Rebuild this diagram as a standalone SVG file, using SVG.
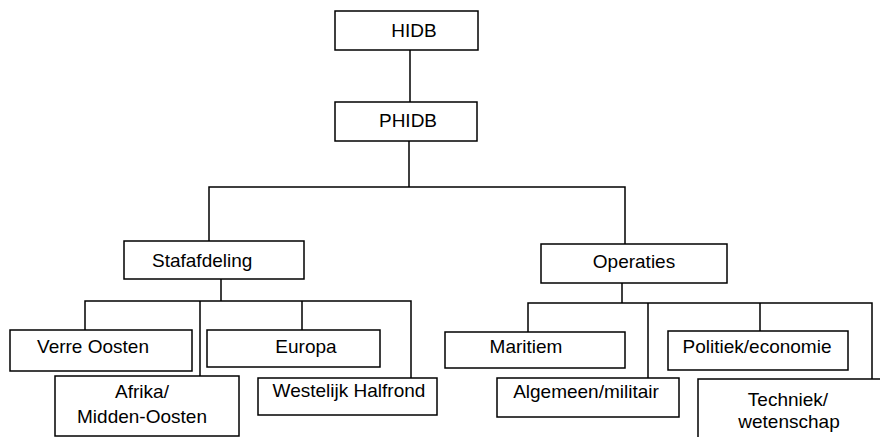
<svg xmlns="http://www.w3.org/2000/svg" width="880" height="437" viewBox="0 0 880 437">
<style>
.box{fill:#fff;stroke:#000;stroke-width:1.5}
.ln{fill:none;stroke:#000;stroke-width:1.5}
text{font-family:"Liberation Sans",Arial,sans-serif;font-size:19px;fill:#000}
</style>
<rect width="880" height="437" fill="#fff"/>
<g id="connectors" class="ln">
<path d="M410 50V102"/>
<path d="M409 141V187M209 241V187H625V244"/>
<path d="M221 279V301M85 330V301H411V378M200 301V376M302 301V330"/>
<path d="M622 283V303M528 332V303H872V379M648 303V378M760 303V331"/>
</g>
<g id="n-hidb"><rect class="box" x="335" y="11" width="143" height="39"/><text x="414" y="37" text-anchor="middle">HIDB</text></g>
<g id="n-phidb"><rect class="box" x="335" y="102" width="142" height="39"/><text x="408" y="127" text-anchor="middle">PHIDB</text></g>
<g id="n-staf"><rect class="box" x="124" y="241" width="180" height="38"/><text x="152" y="267">Stafafdeling</text></g>
<g id="n-operaties"><rect class="box" x="541" y="244" width="186" height="39"/><text x="634" y="268" text-anchor="middle">Operaties</text></g>
<g id="n-verre"><rect class="box" x="10" y="330" width="182" height="41"/><text x="93" y="353" text-anchor="middle">Verre Oosten</text></g>
<g id="n-afrika"><rect class="box" x="55" y="376" width="184" height="60"/><text x="142" y="398" text-anchor="middle">Afrika/</text><text x="142" y="423" text-anchor="middle">Midden-Oosten</text></g>
<g id="n-europa"><rect class="box" x="207" y="330" width="173" height="37"/><text x="306" y="353" text-anchor="middle">Europa</text></g>
<g id="n-westelijk"><rect class="box" x="258" y="378" width="179" height="37"/><text x="349" y="397" text-anchor="middle">Westelijk Halfrond</text></g>
<g id="n-maritiem"><rect class="box" x="445" y="332" width="180" height="36"/><text x="526" y="353" text-anchor="middle">Maritiem</text></g>
<g id="n-algemeen"><rect class="box" x="497" y="378" width="182" height="39"/><text x="586" y="398" text-anchor="middle">Algemeen/militair</text></g>
<g id="n-politiek"><rect class="box" x="668" y="331" width="180" height="39"/><text x="757" y="353" text-anchor="middle">Politiek/economie</text></g>
<g id="n-techniek"><rect class="box" x="698" y="379" width="200" height="80"/><text x="788" y="406" text-anchor="middle">Techniek/</text><text x="789" y="428" text-anchor="middle">wetenschap</text></g>
</svg>
